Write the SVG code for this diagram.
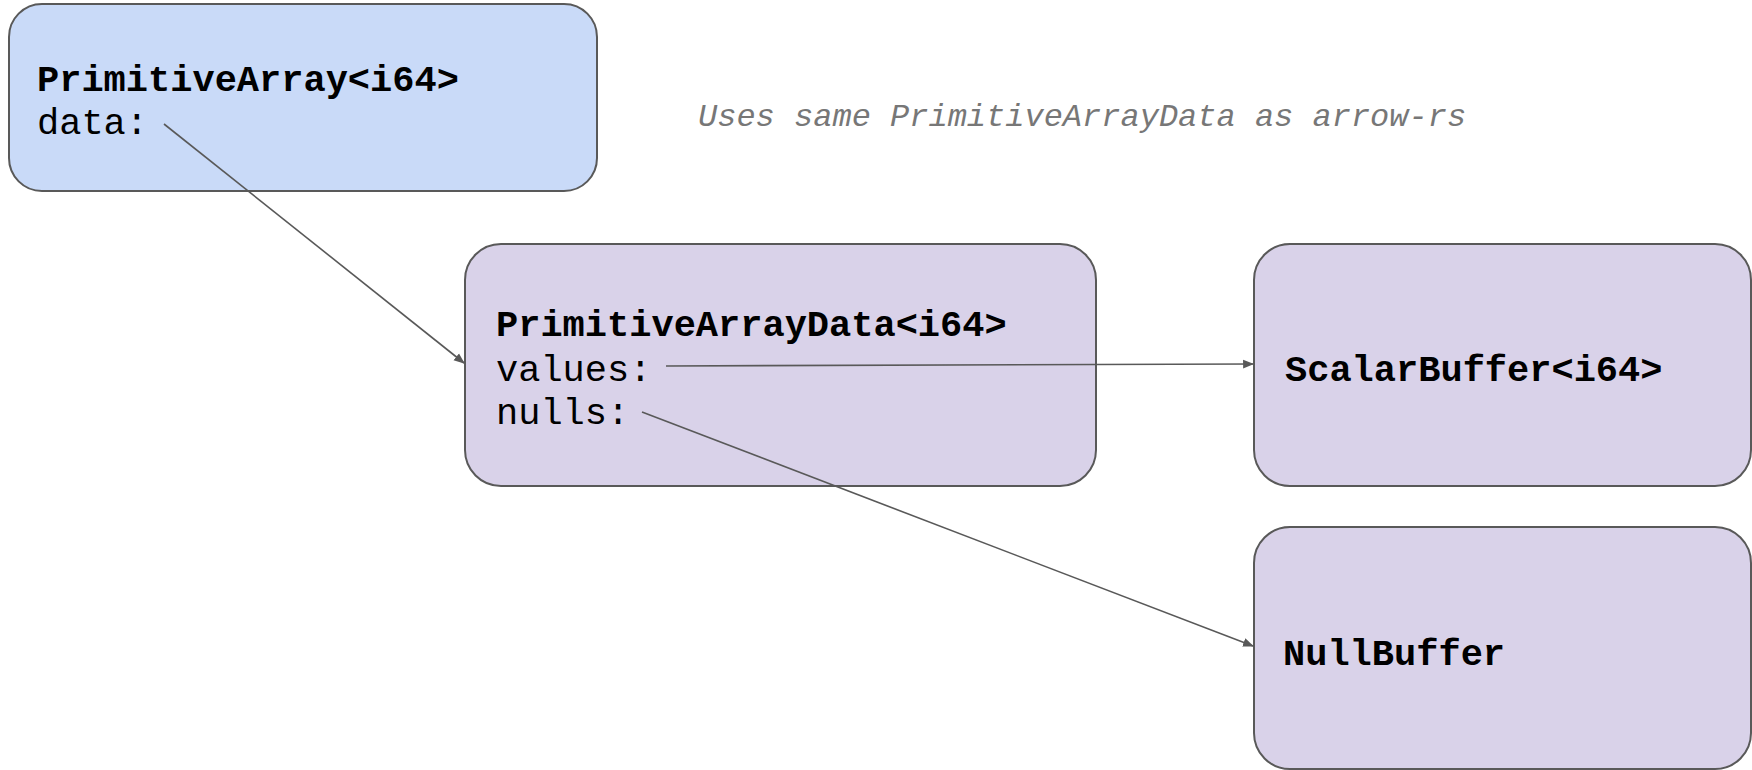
<svg xmlns="http://www.w3.org/2000/svg" width="1752" height="770" viewBox="0 0 1752 770">
  <style>
    .box { stroke: #595959; stroke-width: 2; }
    .blue { fill: #c9daf8; }
    .purple { fill: #d9d2e9; }
    .mono { font-family: "Liberation Mono", "Courier New", monospace; font-size: 37px; fill: #000; }
    .bold { font-weight: bold; }
    .note { font-family: "Liberation Mono", "Courier New", monospace; font-size: 32px; font-style: italic; fill: #777777; }
    .link { stroke: #595959; stroke-width: 1.6; fill: none; marker-end: url(#arrow); }
  </style>
  <defs>
    <marker id="arrow" viewBox="0 0 10 10" refX="9" refY="5" markerWidth="11" markerHeight="11" markerUnits="userSpaceOnUse" orient="auto">
      <path d="M0,1 L10,5 L0,9 z" fill="#595959"/>
    </marker>
  </defs>
  <rect width="1752" height="770" fill="#ffffff"/>

  <g id="primitive-array">
    <rect class="box blue" x="9" y="4" width="588" height="187" rx="33" ry="33"/>
    <text class="mono bold" x="37" y="91">PrimitiveArray&lt;i64&gt;</text>
    <text class="mono" x="37" y="134">data:</text>
  </g>

  <g id="note">
    <text class="note" x="698" y="126">Uses same PrimitiveArrayData as arrow-rs</text>
  </g>

  <g id="primitive-array-data">
    <rect class="box purple" x="465" y="244" width="631" height="242" rx="36" ry="36"/>
    <text class="mono bold" x="496" y="336">PrimitiveArrayData&lt;i64&gt;</text>
    <text class="mono" x="496" y="381">values:</text>
    <text class="mono" x="496" y="424">nulls:</text>
  </g>

  <g id="scalar-buffer">
    <rect class="box purple" x="1254" y="244" width="497" height="242" rx="36" ry="36"/>
    <text class="mono bold" x="1285" y="381">ScalarBuffer&lt;i64&gt;</text>
  </g>

  <g id="null-buffer">
    <rect class="box purple" x="1254" y="527" width="497" height="242" rx="36" ry="36"/>
    <text class="mono bold" x="1283" y="665">NullBuffer</text>
  </g>

  <g id="connectors">
    <line class="link" x1="164" y1="124" x2="464" y2="363"/>
    <line class="link" x1="666" y1="366" x2="1253" y2="364"/>
    <line class="link" x1="642" y1="412" x2="1253" y2="646"/>
  </g>
</svg>
